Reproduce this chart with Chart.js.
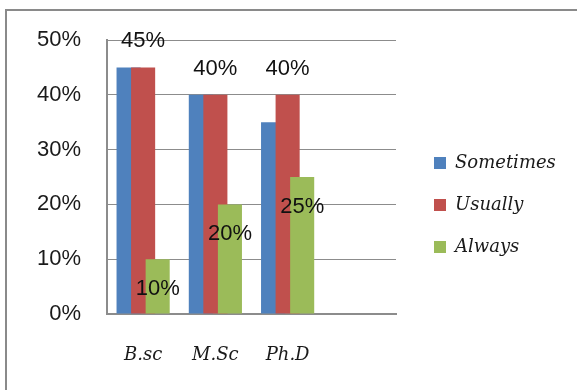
<!DOCTYPE html>
<html>
<head>
<meta charset="utf-8">
<script src="https://cdn.jsdelivr.net/npm/chart.js@4/dist/chart.umd.min.js"></script>
<style>
  html, body { margin: 0; padding: 0; background: #ffffff; }
  #wrap { position: relative; width: 577px; height: 390px; }
</style>
</head>
<body>
<div id="wrap"><canvas id="c" width="577" height="390"></canvas></div>
<script>
// ---- data ----
const categories = ['B.sc', 'M.Sc', 'Ph.D', ''];
const seriesNames = ['Sometimes', 'Usually', 'Always'];
const sometimes = [45, 40, 35];
const usually = [45, 40, 40];
const always = [10, 20, 25];
const yTickValues = [0, 10, 20, 30, 40, 50];

// ---- styles ----
const colors = ['#4F81BD', '#C0504D', '#9BBB59'];
const gridColor = '#8c8c8c';
const sansFont = '"Liberation Sans", Arial, sans-serif';
const serifFont = '"DejaVu Serif", serif';

const framePlugin = {
  id: 'frame',
  beforeDraw(chart) {
    const ctx = chart.ctx;
    ctx.save();
    ctx.fillStyle = '#ffffff';
    ctx.fillRect(0, 0, chart.width, chart.height);
    ctx.strokeStyle = '#8a8a8a';
    ctx.lineWidth = 2;
    ctx.beginPath();
    ctx.moveTo(6, chart.height + 5);
    ctx.lineTo(6, 10);
    ctx.lineTo(chart.width + 5, 10);
    ctx.stroke();
    ctx.restore();
  }
};

// draw datasets in forward order so later series overlap earlier ones
const orderPlugin = {
  id: 'drawOrder',
  beforeDatasetsDraw(chart) {
    chart.getSortedVisibleDatasetMetas().forEach(m => m.controller.draw());
    return false;
  }
};

const legendPlacePlugin = {
  id: 'legendPlace',
  afterLayout(chart) {
    const lg = chart.legend;
    if (!lg) return;
    const pad = lg.options.labels.padding;
    lg.left = 434 - pad;
    lg.right = chart.width;
    lg.width = lg.right - lg.left;
    const h = lg.bottom - lg.top;
    const newTop = (410 - h) / 2;
    lg.top = newTop; lg.bottom = newTop + h;
  }
};

const labelPlugin = {
  id: 'valueLabels',
  afterDraw(chart) {
    const ctx = chart.ctx;
    ctx.save();
    ctx.font = '22px ' + sansFont;
    ctx.fillStyle = '#111111';
    ctx.textAlign = 'center';
    ctx.textBaseline = 'middle';
    const specs = [[1, -26], [2, 30]];
    specs.forEach(([di, off]) => {
      const meta = chart.getDatasetMeta(di);
      const vals = chart.data.datasets[di].data;
      meta.data.forEach((bar, i) => {
        if (vals[i] == null) return;
        ctx.fillText(vals[i] + '%', bar.x, bar.y + off);
      });
    });
    ctx.restore();
  }
};

new Chart(document.getElementById('c'), {
  type: 'bar',
  data: {
    labels: categories,
    datasets: [
      { label: seriesNames[0], data: sometimes, backgroundColor: colors[0] },
      { label: seriesNames[1], data: usually, backgroundColor: colors[1] },
      { label: seriesNames[2], data: always, backgroundColor: colors[2] }
    ]
  },
  options: {
    responsive: false,
    animation: false,
    devicePixelRatio: 1,
    categoryPercentage: 0.604,
    barPercentage: 1.655,
    layout: { padding: { top: 40, left: 0, right: 49, bottom: 0 } },
    plugins: {
      legend: {
        position: 'right',
        labels: {
          boxWidth: 12,
          boxHeight: 12,
          padding: 24,
          color: '#1a1a1a',
          font: { family: serifFont, size: 18, style: 'italic' }
        }
      },
      tooltip: { enabled: false }
    },
    scales: {
      x: {
        grid: { display: false, drawTicks: false },
        border: { display: true, color: gridColor, width: 2 },
        ticks: {
          padding: 31,
          color: '#1a1a1a',
          maxRotation: 0,
          autoSkip: false,
          font: { family: serifFont, size: 18, style: 'italic' }
        },
        afterFit(scale) { scale.height = 76; }
      },
      y: {
        min: 0,
        max: 50,
        afterBuildTicks(scale) { scale.ticks = yTickValues.map(v => ({ value: v })); },
        grid: { color: gridColor, lineWidth: 1, drawTicks: false },
        border: { display: true, color: gridColor, width: 2 },
        ticks: {
          padding: 26,
          color: '#1a1a1a',
          font: { family: sansFont, size: 22 },
          callback: v => v + '%'
        },
        afterFit(scale) { scale.width = 107; }
      }
    }
  },
  plugins: [framePlugin, orderPlugin, legendPlacePlugin, labelPlugin]
});
</script>
</body>
</html>
